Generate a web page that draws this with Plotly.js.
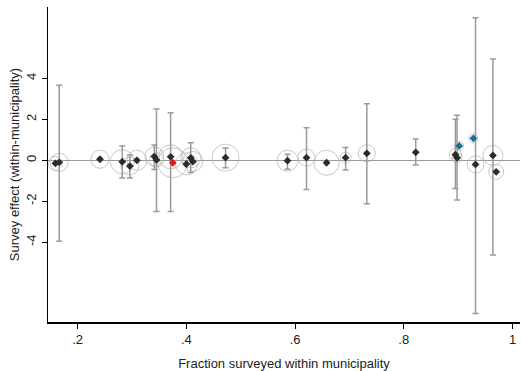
<!DOCTYPE html>
<html><head><meta charset="utf-8">
<script src="https://cdn.plot.ly/plotly-3.0.1.min.js"></script>
<style>html,body{margin:0;padding:0;background:#fff}#c{width:521px;height:371px}</style>
</head><body><div id="c"></div>
<script>
// Municipality-level points (dark)
const fracSurveyed = [0.159, 0.166, 0.241, 0.282, 0.296, 0.309, 0.341, 0.345, 0.371, 0.400, 0.408, 0.412, 0.472, 0.586, 0.621, 0.658, 0.693, 0.732, 0.822, 0.895, 0.898, 0.932, 0.964, 0.970];
const surveyEffect = [-0.15, -0.10, 0.05, -0.07, -0.28, 0.00, 0.18, 0.02, 0.17, -0.18, 0.12, -0.06, 0.13, -0.02, 0.13, -0.12, 0.13, 0.34, 0.39, 0.27, 0.12, -0.20, 0.24, -0.56];
const ciLow  = [null, -3.95, null, -0.86, -0.86, null, -0.45, -2.50, -2.50, null, -0.60, null, -0.36, -0.44, -1.43, null, -0.47, -2.12, -0.23, -1.37, -1.94, -7.48, -4.62, null];
const ciHigh = [null, 3.66, null, 0.70, 0.26, null, 0.75, 2.50, 2.32, null, 0.86, null, 0.60, 0.30, 1.59, null, 0.63, 2.76, 1.04, 2.00, 2.20, 6.96, 4.94, null];
const weight = [14, 18, 18, 24, 18, 20, 19, 14, 24, 22, 20, 20, 27, 21, 17, 25, 11, 17, 0, 12, 10, 17, 20, 15];
// Highlighted points
const redX = [0.375], redY = [-0.12], redWeight = [30];
const blueX = [0.902, 0.928], blueY = [0.70, 1.07], blueWeight = [9, 9];
// Axis ticks
const xTickVals = [0.2, 0.4, 0.6, 0.8, 1.0];
const xTickText = ['.2', '.4', '.6', '.8', '1'];
const yTickVals = [4, 2, 0, -2, -4];
const yTickText = ['4', '2', '0', '-2', '-4'];

const errPlus = surveyEffect.map((y, i) => ciHigh[i] == null ? NaN : ciHigh[i] - y);
const errMinus = surveyEffect.map((y, i) => ciLow[i] == null ? NaN : y - ciLow[i]);

const circleColor = '#b0b0b0';
const traces = [
  {x: fracSurveyed.concat(redX, blueX), y: surveyEffect.concat(redY, blueY), type: 'scatter', mode: 'markers',
   marker: {symbol: 'circle-open', size: weight.concat(redWeight, blueWeight), color: circleColor, line: {width: 1, color: circleColor}},
   hoverinfo: 'skip'},
  {x: fracSurveyed, y: surveyEffect, type: 'scatter', mode: 'markers',
   error_y: {type: 'data', symmetric: false, array: errPlus, arrayminus: errMinus, color: '#9a9a9a', thickness: 1.5, width: 3},
   marker: {symbol: 'diamond', size: 6, color: '#2b2b2b'}},
  {x: redX, y: redY, type: 'scatter', mode: 'markers', marker: {symbol: 'diamond', size: 6, color: '#e8141c'}},
  {x: blueX, y: blueY, type: 'scatter', mode: 'markers', marker: {symbol: 'diamond', size: 6, color: '#1b6e8f'}}
];

const font = {family: 'Liberation Sans, Arial, sans-serif', size: 12, color: '#222'};
const layout = {
  width: 521, height: 371, showlegend: false,
  paper_bgcolor: '#fff', plot_bgcolor: '#fff',
  margin: {l: 48, r: 1, t: 7, b: 49},
  font: font,
  xaxis: {range: [0.1454, 1.0138], tickvals: xTickVals, ticktext: xTickText, ticks: 'outside', ticklen: 5, tickcolor: '#000', tickwidth: 1,
          showline: true, linecolor: '#000', linewidth: 1.5, showgrid: false, zeroline: false,
          tickfont: {family: font.family, size: 13, color: '#222'},
          title: {text: 'Fraction surveyed within municipality', font: {family: font.family, size: 13, color: '#222'}, standoff: 13}},
  yaxis: {range: [-7.89, 7.48], tickvals: yTickVals, ticktext: yTickText, ticks: 'outside', ticklen: 5, tickcolor: '#000', tickwidth: 1,
          tickangle: -90, showline: true, linecolor: '#000', linewidth: 1.5, showgrid: false,
          zeroline: true, zerolinecolor: '#9a9a9a', zerolinewidth: 1.5,
          tickfont: {family: font.family, size: 13, color: '#222'},
          title: {text: 'Survey effect (within-municipality)', font: {family: font.family, size: 13, color: '#222'}, standoff: 1}}
};
Plotly.newPlot('c', traces, layout, {staticPlot: true, displayModeBar: false});
</script></body></html>
